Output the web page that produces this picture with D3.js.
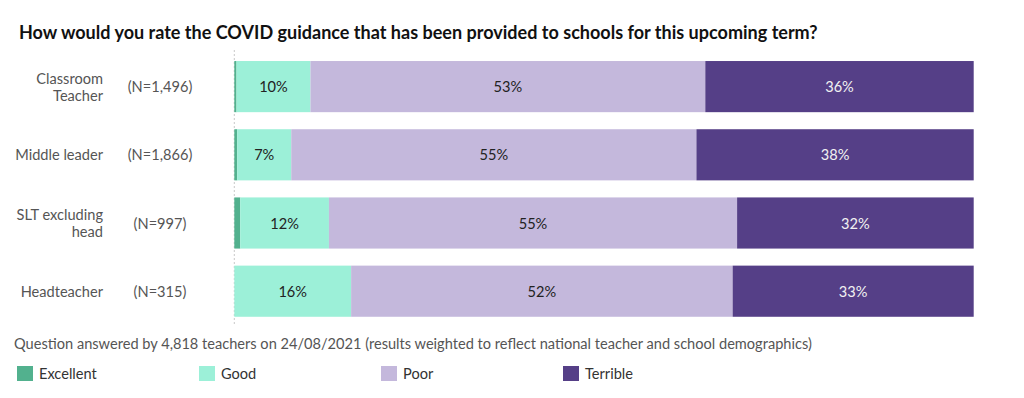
<!DOCTYPE html>
<html>
<head>
<meta charset="utf-8">
<script src="https://cdn.jsdelivr.net/npm/d3@7"></script>
<style>
html,body{margin:0;padding:0;background:#fff;}
svg{display:block;font-family:Lato, "Open Sans", sans-serif;}
</style>
</head>
<body>
<svg id="chart" width="1024" height="398"></svg>
<script>
const title = "How would you rate the COVID guidance that has been provided to schools for this upcoming term?";
const footnote = "Question answered by 4,818 teachers on 24/08/2021 (results weighted to reflect national teacher and school demographics)";
const categories = ["Classroom Teacher", "Middle leader", "SLT excluding head", "Headteacher"];
const nLabels = ["(N=1,496)", "(N=1,866)", "(N=997)", "(N=315)"];
const seriesNames = ["Excellent", "Good", "Poor", "Terrible"];
const excellent = [0.3, 0.4, 0.8, 0];
const good = [10.0, 7.3, 12.0, 15.8];
const poor = [53.4, 54.8, 55.2, 51.6];
const terrible = [36.3, 37.5, 32.0, 32.6];

const colors = {Excellent:"#52b18e", Good:"#9cf0d8", Poor:"#c4b8dc", Terrible:"#553f87"};
const labelColors = {Excellent:"#222", Good:"#222", Poor:"#222", Terrible:"#f2f2f2"};
const FS = 14.6;

const svg = d3.select("#chart");

const rows = categories.map((c,i)=>({cat:c, Excellent:excellent[i], Good:good[i], Poor:poor[i], Terrible:terrible[i]}));
const stack = d3.stack().keys(seriesNames)(rows);

const x = d3.scaleLinear().domain([0,100]).range([234.3, 973.7]);
const y = d3.scaleBand().domain(categories).range([52.5, 325.3]).paddingInner(0.25).paddingOuter(0.125);

// title
const t = svg.append("text").attr("x",19).attr("y",39).attr("font-weight",700).attr("font-size",18).attr("fill","#111").text(title);
const tl = t.node().getComputedTextLength();
t.attr("font-size", 18*799/tl);

// dashed baseline
svg.append("line").attr("x1",x(0)).attr("x2",x(0)).attr("y1",50).attr("y2",325)
  .attr("stroke","#c8c8c8").attr("stroke-width",1).attr("stroke-dasharray","2,2");

// bars
const g = svg.append("g");
stack.forEach(layer=>{
  const key = layer.key;
  g.selectAll(null).data(layer).enter().append("rect")
    .attr("x", d=>x(d[0]))
    .attr("y", d=>y(d.data.cat))
    .attr("width", d=>Math.max(0, x(d[1])-x(d[0])))
    .attr("height", y.bandwidth())
    .attr("fill", colors[key]);
  g.selectAll(null).data(layer.filter(d=>d[1]-d[0] >= 2)).enter().append("text")
    .attr("x", d=>(x(d[0])+x(d[1]))/2)
    .attr("y", d=>y(d.data.cat)+y.bandwidth()/2+5.5)
    .attr("text-anchor","middle")
    .attr("font-size",FS)
    .attr("fill", labelColors[key])
    .text(d=>Math.round(d[1]-d[0])+"%");
});

// category labels
categories.forEach((c,i)=>{
  const cy = y(c)+y.bandwidth()/2;
  let lines = [c];
  if (c.length > 14) { const k = c.lastIndexOf(" "); lines = [c.slice(0,k), c.slice(k+1)]; }
  const txt = svg.append("text").attr("text-anchor","end").attr("font-size",FS).attr("fill","#555");
  lines.forEach((ln,j)=>{
    txt.append("tspan").attr("x",103).attr("y", cy + 5.5 + (j-(lines.length-1)/2)*17).text(ln);
  });
  svg.append("text").attr("x",160).attr("y",cy+5.5).attr("text-anchor","middle")
    .attr("font-size",FS).attr("fill","#555").text(nLabels[i]);
});

// footnote
svg.append("text").attr("x",14).attr("y",349).attr("font-size",FS).attr("fill","#555").text(footnote);

// legend
const lg = svg.append("g");
seriesNames.forEach((s,i)=>{
  const lx = 17 + i*182;
  lg.append("rect").attr("x",lx).attr("y",366).attr("width",16).attr("height",15).attr("fill",colors[s]);
  lg.append("text").attr("x",lx+22).attr("y",379).attr("font-size",FS).attr("fill","#333").text(s);
});
</script>
</body>
</html>
